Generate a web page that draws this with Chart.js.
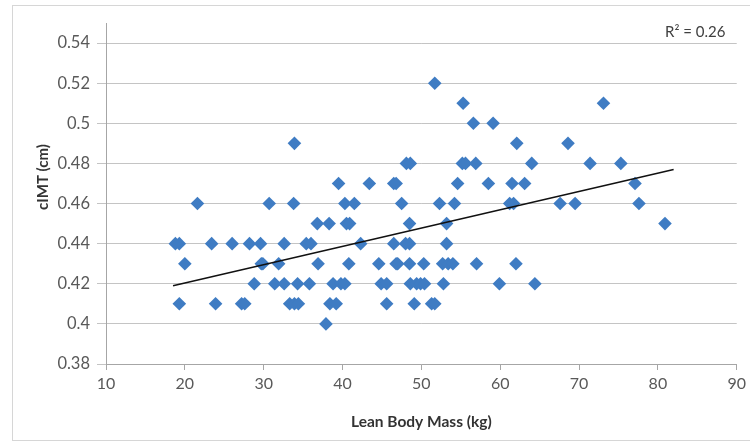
<!DOCTYPE html>
<html>
<head>
<meta charset="utf-8">
<script src="https://cdn.jsdelivr.net/npm/chart.js@4"></script>
<style>
  body { margin: 0; background: #fff; }
  #wrap { width: 750px; height: 443px; position: relative; }
</style>
</head>
<body>
<div id="wrap"><canvas id="myChart"></canvas></div>
<script>
// Lean body mass (kg) and cIMT (cm)
const lbm = [
    51.7,
    55.3, 73.1,
    56.6, 59.1,
    33.9, 62.1, 68.6,
    48.1, 48.6, 55.2, 55.6, 56.9, 64.0, 71.4, 75.3,
    39.5, 43.4, 46.5, 46.8, 54.6, 58.5, 61.5, 63.1, 77.1,
    21.6, 30.7, 33.8, 40.3, 41.5, 47.5, 52.3, 54.2, 61.2, 61.7, 67.6, 69.5, 77.6,
    36.8, 38.3, 40.5, 40.9, 48.5, 53.2, 80.9,
    18.8, 19.3, 23.4, 26.0, 28.2, 29.6, 32.6, 35.4, 36.0, 42.3, 46.5, 48.0, 48.5, 53.2,
    20.0, 29.7, 29.9, 31.9, 36.9, 40.8, 44.6, 46.8, 47.0, 48.5, 50.3, 52.7, 53.4, 54.0, 57.0, 62.0,
    28.8, 31.4, 32.6, 34.3, 35.8, 38.8, 39.8, 40.3, 44.9, 45.6, 48.6, 49.4, 49.9, 50.4, 52.8, 59.9, 64.4,
    19.3, 23.9, 27.2, 27.6, 33.3, 33.9, 34.4, 38.4, 39.2, 45.6, 49.1, 51.3, 51.7,
    37.9
];
const cimt = [
    0.52,
    0.51, 0.51,
    0.50, 0.50,
    0.49, 0.49, 0.49,
    0.48, 0.48, 0.48, 0.48, 0.48, 0.48, 0.48, 0.48,
    0.47, 0.47, 0.47, 0.47, 0.47, 0.47, 0.47, 0.47, 0.47,
    0.46, 0.46, 0.46, 0.46, 0.46, 0.46, 0.46, 0.46, 0.46, 0.46, 0.46, 0.46, 0.46,
    0.45, 0.45, 0.45, 0.45, 0.45, 0.45, 0.45,
    0.44, 0.44, 0.44, 0.44, 0.44, 0.44, 0.44, 0.44, 0.44, 0.44, 0.44, 0.44, 0.44, 0.44,
    0.43, 0.43, 0.43, 0.43, 0.43, 0.43, 0.43, 0.43, 0.43, 0.43, 0.43, 0.43, 0.43, 0.43, 0.43, 0.43,
    0.42, 0.42, 0.42, 0.42, 0.42, 0.42, 0.42, 0.42, 0.42, 0.42, 0.42, 0.42, 0.42, 0.42, 0.42, 0.42, 0.42,
    0.41, 0.41, 0.41, 0.41, 0.41, 0.41, 0.41, 0.41, 0.41, 0.41, 0.41, 0.41, 0.41,
    0.40
];
// linear trendline end points
const trendX = [18.5, 82.0];
const trendY = [0.419, 0.477];
const rSquared = 'R² = 0.26';

const yTicks = [0.38, 0.40, 0.42, 0.44, 0.46, 0.48, 0.50, 0.52, 0.54];
const xTicks = [10, 20, 30, 40, 50, 60, 70, 80, 90];

const fam = 'Lato, "Open Sans", sans-serif';

// frame + R² + y title
const extras = {
    id: 'extras',
    beforeDraw(chart) {
        const c = chart.ctx;
        c.save();
        c.strokeStyle = '#d6d6d6';
        c.lineWidth = 1;
        c.strokeRect(12.5, 5.5, 800, 435);
        c.restore();
    },
    afterDraw(chart) {
        const c = chart.ctx;
        c.save();
        c.fillStyle = '#404040';
        c.font = '15px ' + fam;
        c.textBaseline = 'middle';
        c.textAlign = 'left';
        c.fillText(rSquared, 665, 32);
        c.translate(43, 177);
        c.rotate(-Math.PI / 2);
        c.textAlign = 'center';
        c.font = 'bold 15px ' + fam;
        c.fillStyle = '#333333';
        c.fillText('cIMT (cm)', 0, 0);
        c.restore();
    }
};

const ctx = document.getElementById('myChart').getContext('2d');
const myChart = new Chart(ctx, {
    type: 'scatter',
    data: {
        datasets: [{
            label: 'cIMT',
            data: lbm.map((x, i) => ({ x: x, y: cimt[i] })),
            pointStyle: 'rectRot',
            pointRadius: 6.8,
            backgroundColor: '#3f7cc3',
            borderColor: '#3f7cc3',
            borderWidth: 0,
            order: 2
        }, {
            label: 'Linear',
            type: 'line',
            data: trendX.map((x, i) => ({ x: x, y: trendY[i] })),
            borderColor: '#111111',
            borderWidth: 1.5,
            pointRadius: 0,
            fill: false,
            order: 1
        }]
    },
    options: {
        responsive: true,
        maintainAspectRatio: false,
        animation: false,
        layout: { padding: { top: 23, right: 13, left: 0, bottom: 0 } },
        plugins: { legend: { display: false }, tooltip: { enabled: false } },
        scales: {
            x: {
                type: 'linear',
                min: 10,
                max: 90,
                afterBuildTicks: s => { s.ticks = xTicks.map(v => ({ value: v })); },
                afterFit: s => { s.height = 79; },
                grid: { drawOnChartArea: false, color: '#a6a6a6', tickLength: 6 },
                border: { color: '#a6a6a6' },
                ticks: { color: '#595959', font: { family: fam, size: 16 }, padding: 4, maxRotation: 0 },
                title: {
                    display: true,
                    text: 'Lean Body Mass (kg)',
                    color: '#333333',
                    font: { family: fam, size: 15.5, weight: 'bold' },
                    padding: { top: 0, bottom: 12 }
                }
            },
            y: {
                type: 'linear',
                min: 0.38,
                max: 0.55,
                afterBuildTicks: s => { s.ticks = yTicks.map(v => ({ value: v })); },
                afterFit: s => { s.width = 106; },
                grid: { color: '#c4c4c4', tickLength: 9 },
                border: { color: '#a6a6a6' },
                ticks: {
                    color: '#595959',
                    font: { family: fam, size: 16.5 },
                    padding: 7,
                    callback: v => String(+v.toFixed(2))
                }
            }
        }
    },
    plugins: [extras]
});
</script>
</body>
</html>
